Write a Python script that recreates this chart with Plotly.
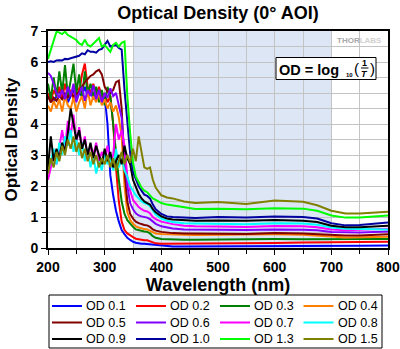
import plotly.graph_objects as go

# Wavelength grid (nm) shared by all filter curves
wavelength = [200, 205, 210, 215, 220, 225, 230, 235, 240, 245, 250, 255, 260, 265, 270,
              275, 280, 285, 290, 295, 300, 305, 310, 315, 320, 325, 330, 335, 340,
              345, 350, 355, 360, 365, 370, 375, 380, 385, 390, 400, 410, 420, 440, 460,
              500, 550, 600, 650, 675, 700, 725, 750, 800]

od_01 = [4.8, 5.0, 4.7, 4.9, 5.1, 4.8, 5.0, 4.7, 4.9, 5.1, 4.8, 5.0, 4.9, 5.2, 4.9,
         5.1, 4.8, 5.0, 5.15, 4.95, 4.9, 4.0, 2.35, 1.7, 1.2, 0.85, 0.58, 0.45, 0.33,
         0.26, 0.2, 0.17, 0.15, 0.14, 0.14, 0.13, 0.12, 0.11, 0.09, 0.07, 0.06, 0.05, 0.05, 0.05,
         0.05, 0.05, 0.05, 0.05, 0.05, 0.06, 0.07, 0.07, 0.08]
od_02 = [5.0, 4.7, 5.1, 4.9, 5.2, 4.8, 5.3, 4.9, 5.1, 4.8, 5.3, 5.0, 5.6, 5.95, 5.2,
         5.0, 5.3, 4.9, 5.2, 4.8, 5.0, 4.7, 4.9, 4.0, 2.6, 1.5, 0.85, 0.58, 0.47,
         0.4, 0.35, 0.3, 0.28, 0.26, 0.25, 0.25, 0.22, 0.17, 0.15, 0.14, 0.14, 0.14, 0.14, 0.14,
         0.14, 0.14, 0.16, 0.18, 0.18, 0.19, 0.19, 0.19, 0.2]
od_03 = [5.3, 4.8, 5.5, 4.9, 5.7, 5.0, 5.9, 4.9, 5.4, 5.95, 5.0, 5.6, 4.8, 5.7, 5.0,
         5.3, 4.9, 5.2, 4.7, 5.1, 4.6, 5.2, 4.9, 4.0, 3.0, 2.2, 1.5, 1.1, 0.9,
         0.78, 0.68, 0.6, 0.57, 0.55, 0.53, 0.52, 0.47, 0.38, 0.33, 0.29, 0.28, 0.27, 0.27, 0.27,
         0.28, 0.27, 0.29, 0.28, 0.28, 0.27, 0.27, 0.27, 0.29]
od_04 = [4.6, 4.4, 4.75, 4.5, 4.8, 4.4, 4.9, 4.6, 4.5, 4.85, 4.4, 4.7, 4.9, 4.5, 5.1,
         4.6, 4.9, 4.7, 5.0, 4.6, 4.8, 4.5, 4.7, 4.4, 4.6, 4.2, 3.6, 2.0, 1.15,
         0.9, 0.78, 0.7, 0.66, 0.63, 0.61, 0.6, 0.56, 0.5, 0.47, 0.45, 0.44, 0.43, 0.43, 0.42,
         0.43, 0.42, 0.44, 0.43, 0.41, 0.37, 0.34, 0.34, 0.36]
od_05 = [4.9, 4.7, 4.85, 4.75, 4.9, 4.8, 5.0, 4.85, 5.0, 4.9, 4.95, 5.05, 5.2, 5.35, 5.45,
         5.55, 5.6, 5.7, 5.75, 5.6, 5.2, 5.05, 5.0, 5.1, 5.35, 5.4, 4.5, 2.5, 1.5,
         1.1, 0.95, 0.85, 0.8, 0.76, 0.74, 0.73, 0.68, 0.6, 0.56, 0.52, 0.5, 0.48, 0.47, 0.46,
         0.46, 0.45, 0.48, 0.47, 0.45, 0.41, 0.4, 0.4, 0.44]
od_06 = [5.65, 5.55, 5.3, 5.0, 4.85, 5.1, 4.8, 5.2, 4.9, 5.3, 4.7, 5.0, 5.2, 4.75, 5.1,
         4.9, 5.25, 4.8, 5.1, 4.7, 5.0, 4.85, 5.15, 4.9, 5.0, 4.6, 4.2, 3.0, 2.0,
         1.45, 1.25, 1.12, 1.05, 1.02, 1.0, 0.98, 0.93, 0.85, 0.78, 0.7, 0.66, 0.63, 0.6, 0.59,
         0.59, 0.58, 0.6, 0.59, 0.57, 0.52, 0.5, 0.5, 0.53]
od_07 = [2.2, 2.6, 3.0, 2.7, 3.3, 3.8, 3.2, 4.1, 3.6, 4.3, 3.4, 3.9, 3.2, 3.6, 2.9,
         3.3, 3.0, 3.4, 2.8, 3.1, 2.9, 3.3, 2.7, 3.0, 4.0, 3.5, 3.8, 3.3, 2.3,
         1.85, 1.55, 1.42, 1.32, 1.25, 1.2, 1.18, 1.12, 1.0, 0.93, 0.85, 0.8, 0.77, 0.72, 0.7,
         0.69, 0.68, 0.71, 0.7, 0.67, 0.6, 0.57, 0.58, 0.62]
od_08 = [2.5, 2.8, 3.2, 2.7, 3.4, 3.0, 3.6, 3.3, 3.8, 3.1, 3.5, 3.0, 3.4, 2.8, 3.2,
         2.6, 3.0, 2.4, 2.8, 2.5, 3.1, 2.7, 2.9, 2.5, 3.2, 2.6, 2.9, 2.5, 2.3,
         2.0, 1.85, 1.7, 1.6, 1.5, 1.45, 1.42, 1.35, 1.2, 1.08, 0.95, 0.88, 0.84, 0.8, 0.79,
         0.79, 0.77, 0.8, 0.79, 0.75, 0.66, 0.62, 0.62, 0.6]
od_09 = [2.6, 3.6, 2.8, 3.2, 2.9, 3.4, 3.1, 3.7, 4.5, 4.0, 3.5, 3.8, 3.2, 3.5, 3.0,
         3.4, 2.9, 3.3, 3.0, 2.7, 3.2, 2.8, 3.1, 2.6, 2.8, 3.0, 2.7, 3.3, 2.9,
         2.7, 2.2, 1.95, 1.75, 1.6, 1.5, 1.45, 1.4, 1.25, 1.15, 1.02, 0.95, 0.92, 0.9, 0.88,
         0.89, 0.88, 0.9, 0.88, 0.84, 0.72, 0.67, 0.67, 0.72]
od_10 = [6.0, 6.02, 6.0, 6.05, 6.06, 6.05, 6.1, 6.09, 6.12, 6.14, 6.17, 6.2, 6.28, 6.25, 6.38,
         6.33, 6.33, 6.3, 6.39, 6.42, 6.55, 6.68, 6.5, 6.52, 6.55, 6.45, 6.4, 5.1, 3.95,
         3.05, 2.45, 2.2, 2.0, 1.85, 1.72, 1.68, 1.6, 1.4, 1.25, 1.1, 1.02, 1.0, 0.98, 0.97,
         1.0, 0.98, 1.02, 1.0, 0.95, 0.8, 0.73, 0.74, 0.82]
od_13 = [6.1, 6.4, 6.75, 6.98, 6.95, 6.9, 6.98, 6.87, 6.82, 6.77, 6.71, 6.6, 6.55, 6.72, 6.55,
         6.5, 6.6, 6.7, 6.77, 6.5, 6.55, 6.44, 6.33, 6.55, 6.62, 6.5, 6.62, 6.66, 4.9,
         3.7, 2.75, 2.3, 2.1, 1.95, 1.85, 1.8, 1.7, 1.6, 1.55, 1.45, 1.4, 1.37, 1.3, 1.26,
         1.27, 1.25, 1.28, 1.27, 1.2, 1.05, 0.98, 0.98, 1.05]
od_15 = [2.4, 2.9, 2.6, 3.1, 2.8, 3.3, 3.0, 3.5, 3.2, 3.6, 3.1, 3.4, 2.9, 3.2, 2.8,
         3.1, 2.7, 3.0, 2.6, 2.9, 2.7, 3.0, 2.6, 2.9, 2.5, 2.8, 3.1, 2.7, 3.0,
         2.75, 3.2, 2.8, 3.6, 3.1, 2.6, 2.55, 2.6, 2.2, 1.95, 1.7, 1.63, 1.6, 1.5, 1.45,
         1.48, 1.42, 1.53, 1.49, 1.38, 1.2, 1.11, 1.11, 1.17]

series_names = ["OD 0.1", "OD 0.2", "OD 0.3", "OD 0.4", "OD 0.5", "OD 0.6",
                "OD 0.7", "OD 0.8", "OD 0.9", "OD 1.0", "OD 1.3", "OD 1.5"]
series_values = [od_01, od_02, od_03, od_04, od_05, od_06,
                 od_07, od_08, od_09, od_10, od_13, od_15]
series_colors = ["#0000ff", "#ff0000", "#008000", "#ff8000", "#800000", "#8000ff",
                 "#ff00ff", "#00ffff", "#000000", "#0000a0", "#00ff00", "#808000"]

# Recommended wavelength band highlighted behind the curves
band = [350, 700]
x_ticks = [200, 300, 400, 500, 600, 700, 800]
y_ticks = [0, 1, 2, 3, 4, 5, 6, 7]

FONT = "Liberation Sans, Arial, sans-serif"
W, H = 400, 349
ML, MR, MT, MB = 48, 12, 31, 101
PW, PH = W - ML - MR, H - MT - MB


def px_x(p):
    """Pixel column -> paper x."""
    return (p - ML) / PW


def px_y(p):
    """Pixel row -> paper y."""
    return (H - MB - p) / PH


fig = go.Figure()
for name, vals, col in zip(series_names, series_values, series_colors):
    fig.add_trace(go.Scatter(x=wavelength, y=vals, name=name, mode="lines",
                             line=dict(color=col, width=2), showlegend=False))

fig.add_shape(type="rect", xref="x", yref="y", x0=band[0], x1=band[1], y0=0, y1=7,
              fillcolor="#dce6f5", line=dict(width=0), layer="below")


def note(text, x, y, size, xanchor="left", color="black", weight="bold", style="normal"):
    fig.add_annotation(text=text, xref="paper", yref="paper", x=px_x(x), y=px_y(y),
                       xanchor=xanchor, yanchor="middle", showarrow=False,
                       borderpad=0, font=dict(family=FONT, size=size, color=color,
                                              weight=weight, style=style))


# Equation box: OD = log10(1/T)
fig.add_shape(type="rect", xref="paper", yref="paper",
              x0=px_x(276), x1=px_x(376), y0=px_y(79.5), y1=px_y(57.5),
              fillcolor="white", line=dict(color="black", width=1), layer="above")
fig.add_shape(type="line", xref="paper", yref="paper",
              x0=px_x(361), x1=px_x(368.5), y0=px_y(68), y1=px_y(68),
              line=dict(color="black", width=1), layer="above")
note("OD = log", 278, 69.5, 14.5)
note("10", 344.5, 75.5, 6)
note("(", 356.5, 68.5, 15, xanchor="center", weight="normal")
note("1", 364.8, 63, 9, xanchor="center")
note("T", 364.8, 73.5, 9, xanchor="center", style="italic")
note(")", 372.5, 68.5, 15, xanchor="center", weight="normal")
note("THOR<span style='color:#d0d0d0'>LABS</span>", 359, 40, 8, xanchor="center",
     color="#a8a8a8")

# Legend panel: 3 rows x 4 columns below the plot
leg_left, leg_right, leg_top, leg_bottom = 49, 382, 295, 348
col_x = [52, 136, 220, 303.5]
row_y = [306, 322.5, 339]
fig.add_shape(type="rect", xref="paper", yref="paper",
              x0=px_x(leg_left), x1=px_x(leg_right), y0=px_y(leg_bottom), y1=px_y(leg_top),
              fillcolor="white", line=dict(color="black", width=1), layer="above")
for i, (name, col) in enumerate(zip(series_names, series_colors)):
    r, c = divmod(i, 4)
    x0, y0 = col_x[c], row_y[r]
    fig.add_shape(type="line", xref="paper", yref="paper",
                  x0=px_x(x0), x1=px_x(x0 + 30), y0=px_y(y0), y1=px_y(y0),
                  line=dict(color=col, width=2), layer="above")
    note(name.replace(" ", "\u00a0"), x0 + 33, y0, 12.5, weight="normal")

axis_common = dict(showline=True, linecolor="black", linewidth=2, mirror=True,
                   ticks="outside", ticklen=5, tickwidth=1, tickcolor="black",
                   showgrid=True, gridcolor="#c4c4c4", gridwidth=1, zeroline=False,
                   tickfont=dict(family=FONT, size=14, color="black", weight="bold"))

fig.update_xaxes(range=[200, 800], tickvals=x_ticks,
                 minor=dict(dtick=50, ticklen=4, tickcolor="black", ticks="outside",
                            showgrid=True, gridcolor="#c4c4c4", gridwidth=1),
                 title=dict(text="Wavelength (nm)", standoff=3,
                            font=dict(family=FONT, size=18, color="black", weight="bold")),
                 **axis_common)
fig.update_yaxes(range=[0, 7], tickvals=y_ticks,
                 minor=dict(dtick=0.5, ticklen=4, tickcolor="black", ticks="outside",
                            showgrid=True, gridcolor="#c4c4c4", gridwidth=1),
                 title=dict(text="Optical Density", standoff=8,
                            font=dict(family=FONT, size=17, color="black", weight="bold")),
                 **axis_common)

fig.update_layout(
    width=W, height=H,
    margin=dict(l=ML, r=MR, t=MT, b=MB, autoexpand=False),
    paper_bgcolor="white", plot_bgcolor="white",
    showlegend=False,
    title=dict(text="Optical Density (0° AOI)", x=(ML + PW / 2) / W, xanchor="center",
               y=1 - 13 / H, yanchor="middle",
               font=dict(family=FONT, size=18, color="black", weight="bold")),
)

fig.write_html("out.html")
